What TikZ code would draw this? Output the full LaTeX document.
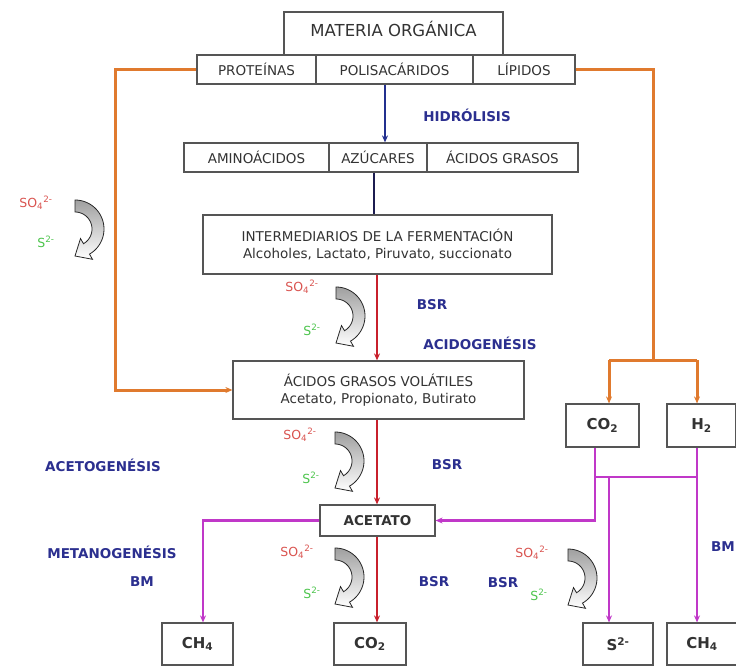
\documentclass[tikz,border=0pt]{standalone}
\usepackage{fontspec}
\setmainfont{DejaVu Sans}
\usetikzlibrary{arrows.meta}

\definecolor{boxline}{HTML}{555555}
\definecolor{boxtext}{HTML}{333333}
\definecolor{procblue}{HTML}{2B2F8F}
\definecolor{navyline}{HTML}{23308F}
\definecolor{darkline}{HTML}{1C1C50}
\definecolor{redline}{HTML}{C8202C}
\definecolor{orangeline}{HTML}{E07A2E}
\definecolor{magline}{HTML}{C038C8}
\definecolor{sulfred}{HTML}{D9534F}
\definecolor{sulfgreen}{HTML}{4CC44C}

\newcommand\sulfate{SO\textsubscript{4}\textsuperscript{2-}}
\newcommand\sulfide{S\textsuperscript{2-}}

\tikzset{
  uturn/.pic={
    \path[top color=gray!75, bottom color=white, draw=gray!30!black, line width=0.8pt]
      (3,0)
      -- plot[domain=-90:60, samples=40] ({3+29*cos(\x)},{29+29*sin(\x)})
      -- ({3+35*cos(60)},{29+35*sin(60)})
      -- (3,56)
      -- ({3+11*cos(60)},{29+11*sin(60)})
      -- plot[domain=60:-90, samples=40] ({3+17*cos(\x)},{29+17*sin(\x)})
      -- cycle;
  }
}

\begin{document}
\begin{tikzpicture}[x=1pt,y=-1pt,
  box/.style={draw=boxline, line width=1.2pt, fill=white, inner sep=0pt,
              text=boxtext, font=\fontsize{13.5}{17}\selectfont, align=center},
  cell/.style={box, minimum height=29pt},
  gasbox/.style={box, minimum height=43pt, font=\bfseries\fontsize{15}{17}\selectfont},
  endbox/.style={box, minimum height=42pt, minimum width=71pt, font=\bfseries\fontsize{15}{17}\selectfont},
  proc/.style={text=procblue, font=\bfseries\fontsize{13.5}{16}\selectfont, inner sep=0pt},
  sred/.style={text=sulfred, font=\fontsize{12.5}{14}\selectfont, inner sep=0pt},
  sgreen/.style={text=sulfgreen, font=\fontsize{12.5}{14}\selectfont, inner sep=0pt},
  oline/.style={draw=orangeline, line width=3pt},
  oarrow/.style={oline, -{Stealth[length=7pt,width=6pt]}},
  barrow/.style={draw=navyline, line width=2pt, -{Stealth[length=7pt,width=6pt]}},
  dline/.style={draw=darkline, line width=2.2pt},
  rarrow/.style={draw=redline, line width=2pt, -{Stealth[length=7pt,width=6pt]}},
  mline/.style={draw=magline, line width=2.6pt},
  marrow/.style={mline, -{Stealth[length=7pt,width=6pt]}}
]
\useasboundingbox (0,0) rectangle (736,666);

% substrate boxes
\node[box, minimum width=219pt, minimum height=44pt, text height=12pt, text depth=6pt,
      font=\fontsize{16.5}{19}\selectfont] (mat) at (393.5,34) {MATERIA ORGÁNICA};
\node[cell, minimum width=119pt] (prot) at (256.5,69.5) {PROTEÍNAS};
\node[cell, minimum width=157pt] (poli) at (394.5,69.5) {POLISACÁRIDOS};
\node[cell, minimum width=102pt] (lip)  at (524,69.5)   {LÍPIDOS};

\node[cell, minimum width=145pt] (amino) at (256.5,157.5) {AMINOÁCIDOS};
\node[cell, minimum width=98pt]  (azu)   at (378,157.5)   {AZÚCARES};
\node[cell, minimum width=151pt] (agr)   at (502.5,157.5) {ÁCIDOS GRASOS};

\node[box, minimum width=349pt, minimum height=59pt] (ferm) at (377.5,244.5)
  {INTERMEDIARIOS DE LA FERMENTACIÓN\\Alcoholes, Lactato, Piruvato, succionato};
\node[box, minimum width=291pt, minimum height=58pt] (agv) at (378.5,390)
  {ÁCIDOS GRASOS VOLÁTILES\\Acetato, Propionato, Butirato};
\node[box, minimum width=115pt, minimum height=31pt, font=\bfseries\fontsize{13.5}{16}\selectfont]
  (acet) at (377.5,520.5) {ACETATO};

\node[gasbox, minimum width=73pt] (co2b) at (602.5,425.5) {CO\textsubscript{2}};
\node[gasbox, minimum width=69pt] (h2b)  at (701.5,425.5) {H\textsubscript{2}};

\node[endbox] (ch4l) at (197.5,644) {CH\textsubscript{4}};
\node[endbox, minimum width=72pt] (co2c) at (370,644) {CO\textsubscript{2}};
\node[endbox, minimum width=70pt] (s2)   at (618,644) {\sulfide};
\node[endbox, minimum width=70pt] (ch4r) at (702,644) {CH\textsubscript{4}};

% process labels
\node[proc] (hid)  at (467,115) {HIDRÓLISIS};
\node[proc] (bsr1) at (432,305) {BSR};
\node[proc] (acid) at (480,343) {ACIDOGENÉSIS};
\node[proc] (acg)  at (103,465) {ACETOGENÉSIS};
\node[proc] (bsr2) at (447,465) {BSR};
\node[proc] (met)  at (112,552) {METANOGENÉSIS};
\node[proc] (bm1)  at (142,582) {BM};
\node[proc] (bsr3) at (434,582) {BSR};
\node[proc] (bsr4) at (503,583) {BSR};
\node[proc, anchor=east] (bm2) at (735,547) {BM};

% sulfate reduction side steps
\node[sred]   (so1) at (36,203)  {\sulfate};
\node[sgreen] (sf1) at (46,242)  {\sulfide};
\pic at (72,200) {uturn};
\node[sred]   (so2) at (302,287) {\sulfate};
\node[sgreen] (sf2) at (312,330) {\sulfide};
\pic at (333,287) {uturn};
\node[sred]   (so3) at (300,435) {\sulfate};
\node[sgreen] (sf3) at (311,478) {\sulfide};
\pic at (332,432) {uturn};
\node[sred]   (so4) at (297,552) {\sulfate};
\node[sgreen] (sf4) at (312,593) {\sulfide};
\pic at (332,548) {uturn};
\node[sred]   (so5) at (532,553) {\sulfate};
\node[sgreen] (sf5) at (539,595) {\sulfide};
\pic at (565,549) {uturn};

% hydrolysis and fermentation
\coordinate (hx) at (385,0);
\draw[barrow] (hx |- poli.south) -- (hx |- azu.north);
\coordinate (fx) at (374,0);
\draw[dline] (fx |- azu.south) -- (fx |- ferm.north);

% main acid chain
\coordinate (rx) at (377,0);
\draw[rarrow] (rx |- ferm.south) -- (rx |- agv.north);
\draw[rarrow] (rx |- agv.south) -- (rx |- acet.north);
\draw[rarrow] (rx |- acet.south) -- (rx |- co2c.north);

% direct routes from proteins and lipids
\coordinate (oL) at (115,0);
\draw[oarrow] (prot.west) -| (oL |- agv.west) -- (agv.west);
\coordinate (oR) at (653,360);
\draw[oline] (lip.east) -| (oR);
\coordinate (oRa) at (609,360);
\coordinate (oRb) at (697,360);
\draw[oline] (oRa) -- (oRb);
\draw[oarrow] (oRa) -- (oRa |- co2b.north);
\draw[oarrow] (oRb) -- (oRb |- h2b.north);

% methanogenic and sulfidogenic routes
\coordinate (mA) at (595,0);
\draw[marrow] (mA |- co2b.south) |- (acet.east);
\coordinate (mB) at (697,0);
\draw[marrow] (mB |- h2b.south) -- (mB |- ch4r.north);
\coordinate (mJ) at (595,477);
\coordinate (mJr) at (697,477);
\draw[mline] (mJ) -- (mJr);
\coordinate (mS) at (609,477);
\draw[marrow] (mS) -- (mS |- s2.north);
\coordinate (mL) at (203,0);
\draw[marrow] (acet.west) -| (mL |- ch4l.north);
\end{tikzpicture}
\end{document}
